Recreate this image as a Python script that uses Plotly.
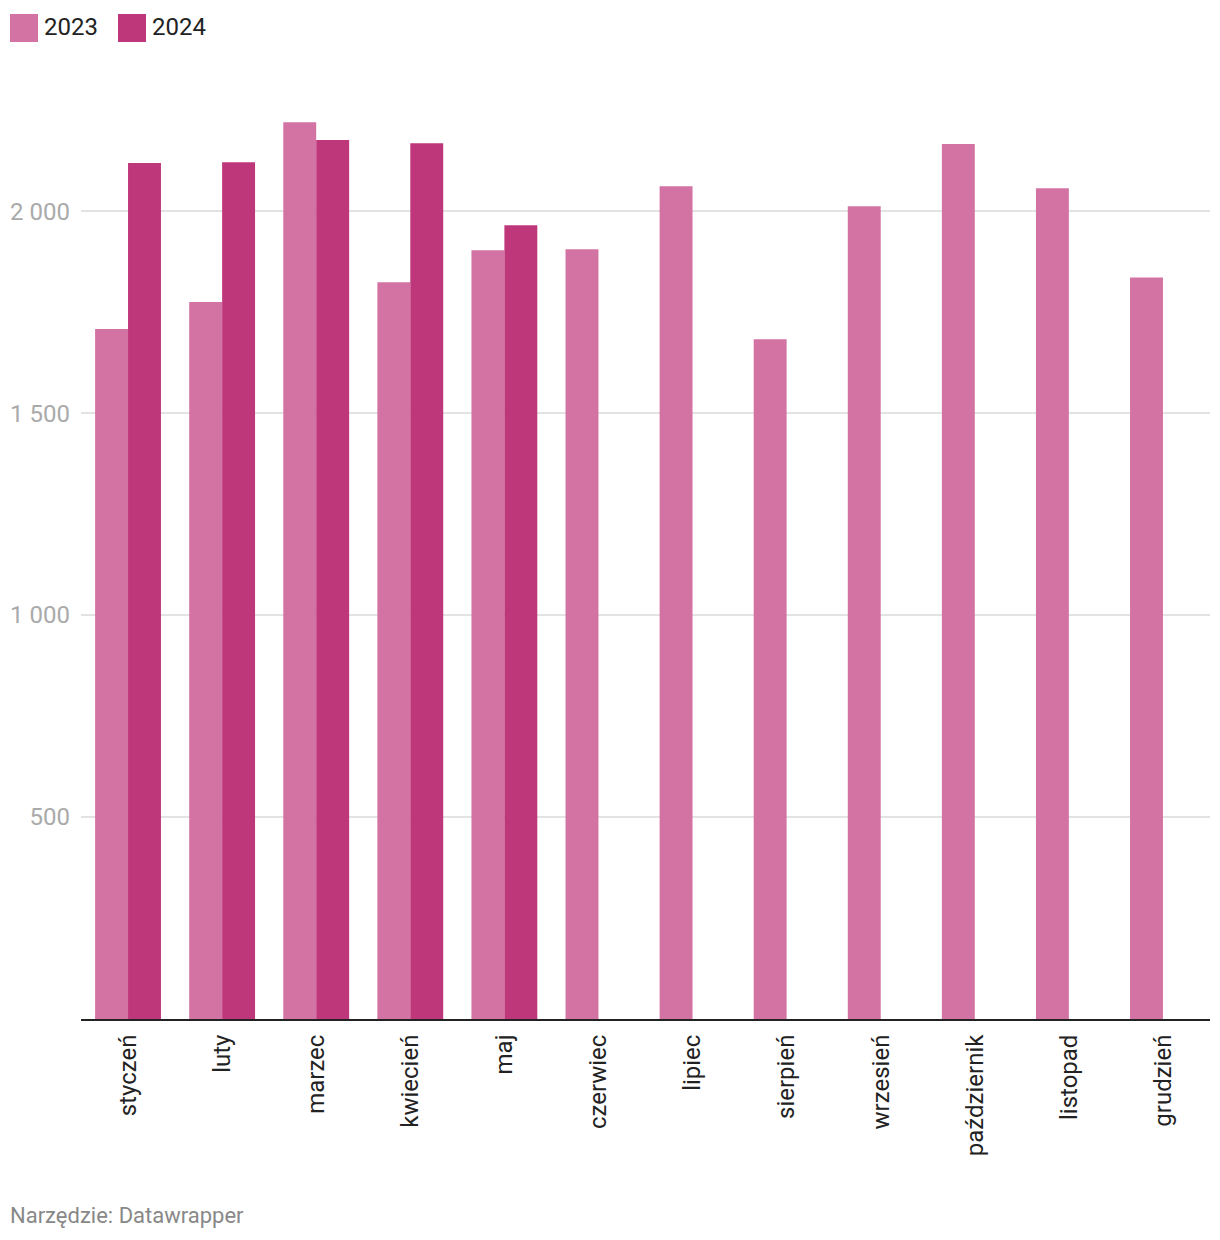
import plotly.graph_objects as go

months = ["styczeń", "luty", "marzec", "kwiecień", "maj", "czerwiec", "lipiec",
          "sierpień", "wrzesień", "październik", "listopad", "grudzień"]
v2023 = [1708, 1775, 2220, 1824, 1903, 1906, 2062, 1683, 2012, 2166, 2057, 1836]
v2024 = [2119, 2121, 2176, 2168, 1965, None, None, None, None, None, None, None]
ytick_vals = [500, 1000, 1500, 2000]
ytick_text = ["500", "1 000", "1 500", "2 000"]

c2023 = "#d373a4"
c2024 = "#be377b"

# page has an 8px body margin; figure coordinates are page coords minus 8
OFF = 8
W, H = 1220 - OFF, 1240 - OFF
L, R, T, B = 81 - OFF, 10, 90 - OFF, 221
pw, ph = W - L - R, H - T - B

def px(x):
    return (x - OFF - L) / pw

def py(y):
    return (H - B - (y - OFF)) / ph

fig = go.Figure()
fig.add_trace(go.Bar(x=months, y=v2023, name="2023", marker_color=c2023, marker_line_width=0))
fig.add_trace(go.Bar(x=months, y=v2024, name="2024", marker_color=c2024, marker_line_width=0))

shapes = []
annotations = []
for i, (name, col) in enumerate([("2023", c2023), ("2024", c2024)]):
    x0 = 10 + i * 108
    shapes.append(dict(type="rect", xref="paper", yref="paper",
                       x0=px(x0), x1=px(x0 + 28), y0=py(42), y1=py(14),
                       fillcolor=col, line_width=0))
    annotations.append(dict(xref="paper", yref="paper", x=px(x0 + 32), y=py(27),
                            text=name, showarrow=False, xanchor="left", yanchor="middle",
                            font=dict(family="Roboto", size=24, color="#222222")))

annotations.append(dict(xref="paper", yref="paper", x=px(8), y=py(1215),
                        text="Narzędzie: Datawrapper", showarrow=False,
                        xanchor="left", yanchor="middle",
                        font=dict(family="Roboto", size=22, color="#888888")))

fig.update_layout(
    width=W, height=H,
    margin=dict(l=L, r=R, t=T, b=B, autoexpand=False),
    plot_bgcolor="white", paper_bgcolor="white",
    barmode="group", bargap=0.3, bargroupgap=0,
    showlegend=False,
    font=dict(family="Roboto"),
    shapes=shapes, annotations=annotations,
    xaxis=dict(tickangle=-90, tickfont=dict(size=24, color="#222222"),
               showline=True, linecolor="#222222", linewidth=2, ticks="",
               showgrid=False, fixedrange=True, ticklabelstandoff=4),
    yaxis=dict(range=[0, 2300], tickvals=ytick_vals, ticktext=ytick_text,
               tickfont=dict(size=24, color="#aaaaaa"), showgrid=True,
               gridcolor="#e3e3e3", gridwidth=1.5, zeroline=False, showline=False,
               ticks="", ticklabelstandoff=10),
)

fig.write_html("out.html")
